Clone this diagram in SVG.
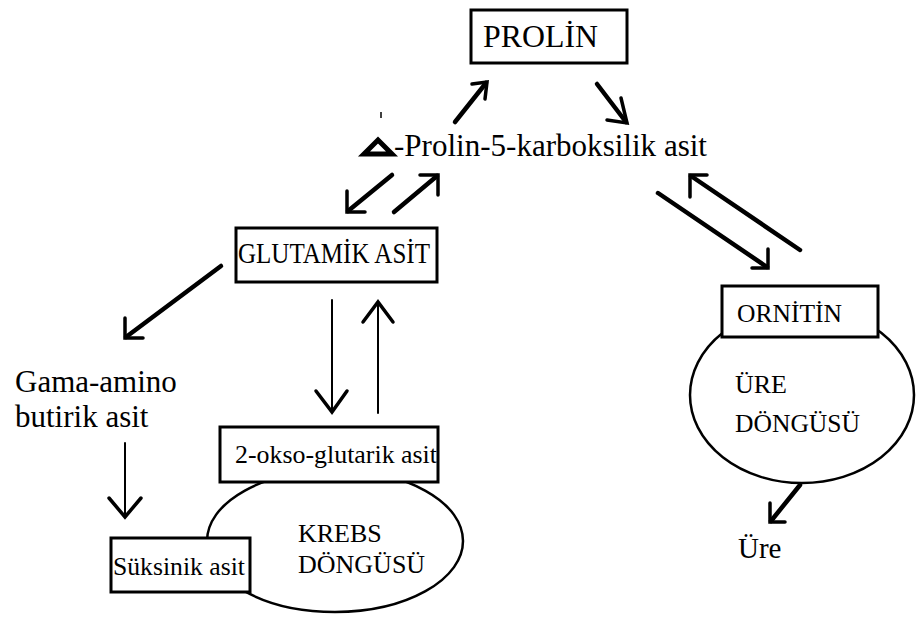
<svg xmlns="http://www.w3.org/2000/svg" width="918" height="628" viewBox="0 0 918 628" font-family="'Liberation Serif', 'DejaVu Serif', 'Times New Roman', serif">
<style>
.box{fill:#fff;stroke:#000;stroke-width:3}
.ell{fill:#fff;stroke:#000;stroke-width:2.5}
text{font-family:'Liberation Serif','DejaVu Serif','Times New Roman',serif;fill:#000}
.thick{fill:none;stroke:#000;stroke-width:4.5;stroke-linecap:round;stroke-linejoin:miter}
.thin{fill:none;stroke:#000;stroke-width:2;stroke-linecap:round}
.head{fill:none;stroke:#000;stroke-width:3.5;stroke-linecap:round;stroke-linejoin:miter}
</style>
<rect width="918" height="628" fill="#fff"/>

<g id="prolin">
<rect class="box" x="471" y="10" width="156" height="53"/>
<text x="483" y="47" font-size="32" textLength="115" lengthAdjust="spacingAndGlyphs">PROLİN</text>
</g>

<g id="p5c">
<line x1="381" y1="112" x2="381" y2="118" stroke="#000" stroke-width="1.5"/>
<polygon points="364,154 392,154 378,140" fill="none" stroke="#000" stroke-width="5" stroke-linejoin="miter"/>
<text x="394" y="156" font-size="31" textLength="313" lengthAdjust="spacingAndGlyphs">-Prolin-5-karboksilik asit</text>
</g>

<g id="glutamik">
<rect class="box" x="236" y="228" width="201" height="54"/>
<text x="238" y="263" font-size="29" textLength="192" lengthAdjust="spacingAndGlyphs">GLUTAMİK ASİT</text>
</g>

<g id="gaba">
<text x="15" y="392" font-size="31">Gama-amino</text>
<text x="15" y="427" font-size="31">butirik asit</text>
</g>

<g id="krebs">
<ellipse class="ell" cx="335" cy="541" rx="128" ry="71"/>
<text x="298" y="542" font-size="26">KREBS</text>
<text x="298" y="573" font-size="26">DÖNGÜSÜ</text>
</g>

<g id="oksoglutarik">
<rect class="box" x="220" y="427" width="218" height="55"/>
<text x="235" y="463" font-size="26" textLength="202" lengthAdjust="spacingAndGlyphs">2-okso-glutarik asit</text>
</g>

<g id="suksinik">
<rect class="box" x="111" y="538" width="139" height="54"/>
<text x="113" y="575" font-size="26" textLength="132" lengthAdjust="spacingAndGlyphs">Süksinik asit</text>
</g>

<g id="ure-dongusu">
<ellipse class="ell" cx="802" cy="395" rx="112" ry="88"/>
<text x="735" y="393" font-size="26">ÜRE</text>
<text x="735" y="432" font-size="26" textLength="125" lengthAdjust="spacingAndGlyphs">DÖNGÜSÜ</text>
</g>

<g id="ornitin">
<rect class="box" x="722" y="286" width="156" height="51"/>
<text x="737" y="322" font-size="26" textLength="105" lengthAdjust="spacingAndGlyphs">ORNİTİN</text>
</g>

<g id="ure">
<text x="738" y="558" font-size="29">Üre</text>
</g>

<g id="connectors">
<line class="thick" x1="455" y1="122" x2="486" y2="83"/>
<polyline class="head" points="472,84 487,82 485,99"/>
<line class="thick" x1="597" y1="84" x2="626" y2="122"/>
<polyline class="head" points="621,98 627,123 607,120"/>
<line class="thick" x1="392" y1="175" x2="348" y2="211"/>
<polyline class="head" points="347,191 347,212 365,212"/>
<line class="thick" x1="394" y1="212" x2="437" y2="176"/>
<polyline class="head" points="420,175 438,175 438,195"/>
<line class="thick" x1="221" y1="266" x2="126" y2="337"/>
<polyline class="head" points="125,318 125,338 143,338"/>
<line class="thin" x1="125" y1="443" x2="125" y2="516"/>
<polyline class="head" points="109,498 125,517 141,498"/>
<line class="thin" x1="332" y1="300" x2="332" y2="411"/>
<polyline class="head" points="316,391 332,412 347,391"/>
<line class="thin" x1="378" y1="413" x2="378" y2="303"/>
<polyline class="head" points="363,322 378,302 393,322"/>
<line class="thick" x1="658" y1="193" x2="767" y2="267"/>
<polyline class="head" points="768,249 768,268 752,268"/>
<line class="thick" x1="800" y1="250" x2="691" y2="176"/>
<polyline class="head" points="707,175 690,175 690,197"/>
<line class="thick" x1="800" y1="485" x2="771" y2="521"/>
<polyline class="head" points="770,503 770,522 785,522"/>
</g>
</svg>
